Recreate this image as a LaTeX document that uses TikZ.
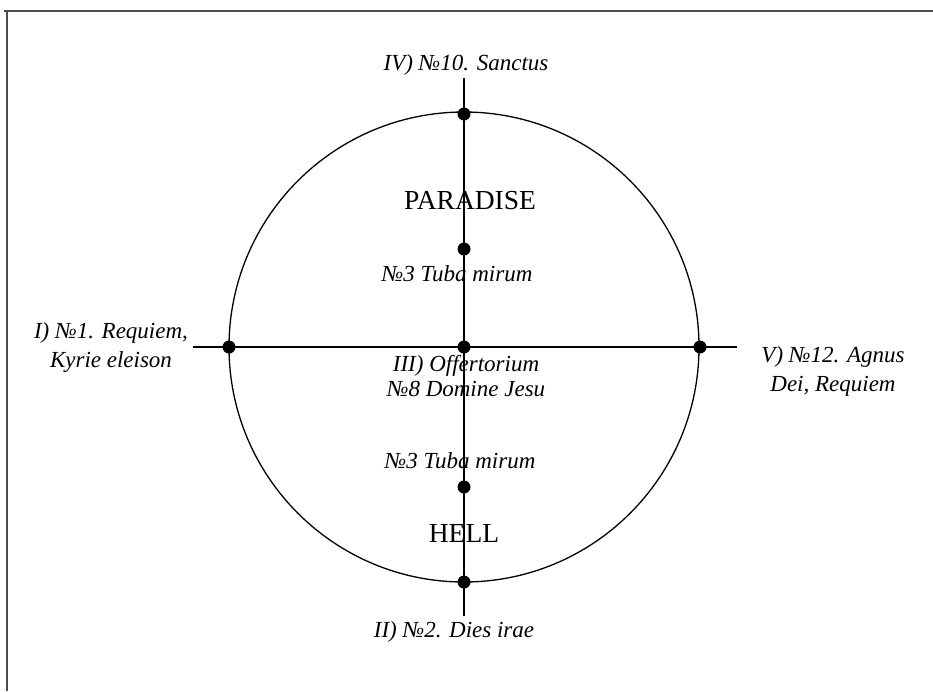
\documentclass[tikz,border=0pt]{standalone}
\usepackage{fontspec}
\setmainfont{Liberation Serif}
\usepackage{tikz}

\begin{document}
\begin{tikzpicture}
    [x=1pt, y=-1pt,
 dot/.style ={circle, fill=black, inner sep=0pt, minimum size=13pt},
 line/.style ={draw, line width=1.3pt},
 frame/.style ={draw=black!70, line width=1.6pt},
 station/.style ={font=\fontsize{23}{29}\selectfont\itshape, inner sep=0pt, align=center},
 realm/.style ={font=\fontsize{27.5}{30}\selectfont, inner sep=0pt, anchor=base}]
        \useasboundingbox (0,0) rectangle (933,691);
        % page frame, top and left edge only
        \draw[frame] (4,11) -- (933,11);
        \draw[frame] (7,11) -- (7,691);
        % circle and cross
        \coordinate (centre) at (464,347);
        \draw[line] (centre) circle (235);
        \coordinate (vtop) at (464,78);
        \coordinate (vbot) at (464,616);
        \coordinate (hleft) at (193,347);
        \coordinate (hright) at (737,347);
        \draw[line] (vtop) -- (vbot);
        \draw[line] (hleft) -- (hright);
        % points
        \node[dot] (sanctus) at (464,114) {};
        \node[dot] (tubaup) at (464,249) {};
        \node[dot] (offert) at (centre) {};
        \node[dot] (tubadown) at (464,487) {};
        \node[dot] (dies) at (464,582) {};
        \node[dot] (requiem) at (229,347) {};
        \node[dot] (agnus) at (700,347) {};
        % labels
        \node[station, anchor=base] (lsanctus) at (466,70) {IV) №10. Sanctus};
        \node[realm] (lparadise) at (470,209) {PARADISE};
        \node[station, anchor=base] (ltubaup) at (457,281) {№3 Tuba mirum};
        \node[station] (lrequiem) at (111,347) {I) №1. Requiem,\\Kyrie eleison};
        \node[station] (lagnus) at (833,371) {V) №12. Agnus\\Dei, Requiem};
        \node[station, font=\fontsize{23}{25}\selectfont\itshape] (loffert) at (466,376) {III) Offertorium\\№8 Domine Jesu};
        \node[station, anchor=base] (ltubadown) at (460,468) {№3 Tuba mirum};
        \node[realm] (lhell) at (464,542) {HELL};
        \node[station, anchor=base] (ldies) at (454,637) {II) №2. Dies irae};
    \end{tikzpicture}
\end{document}
